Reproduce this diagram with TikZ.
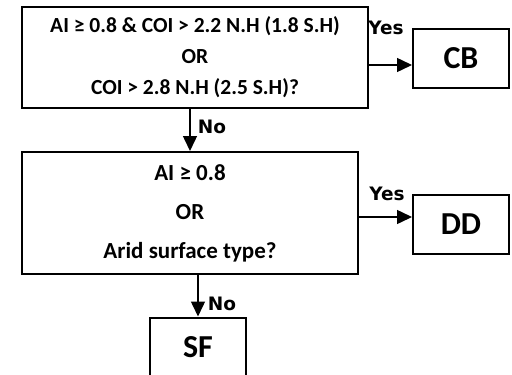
\documentclass[tikz,border=0pt]{standalone}
\usepackage{fontspec}
\setmainfont{Carlito}
\newfontfamily\lblfont{DejaVu Sans}
\usetikzlibrary{arrows.meta,positioning,calc}

\begin{document}
\begin{tikzpicture}[
    x=1pt, y=-1pt,
    % --- STYLES ---
    test/.style={
        rectangle, draw=black, line width=2pt,
        align=center, inner sep=0pt
    },
    result/.style={
        rectangle, draw=black, line width=2pt,
        minimum width=96pt, minimum height=59pt,
        font=\fontsize{32}{32}\selectfont\bfseries
    },
    answer/.style={font=\lblfont\fontsize{18.5}{18.5}\selectfont\bfseries, inner sep=0pt},
    control/.style={-{Triangle[length=15pt,width=14pt]}, line width=1.5pt}
]
\useasboundingbox (0,0) rectangle (512,375);

% ===== 1. TESTS =====
\node[test, minimum width=346pt, minimum height=101pt,
      font=\fontsize{21.5}{31}\selectfont\bfseries] (q1) at (195,57.5)
    {AI ≥ 0.8 \& COI > 2.2 N.H (1.8 S.H)\\ OR\\ COI > 2.8 N.H (2.5 S.H)?};

\node[test, minimum width=336pt, minimum height=122pt,
      font=\fontsize{23}{39}\selectfont\bfseries] (q2) at (190,213)
    {AI ≥ 0.8\\ OR\\ Arid surface type?};

% ===== 2. RESULTS =====
\node[result] (cb) at (461,58.5) {CB};
\node[result] (dd) at (461,224) {DD};
\node[result] (sf) at (198,347) {SF};

% ===== 3. CONNECTIONS =====
\draw[control] ([yshift=-7.5pt]q1.east) -- ([yshift=-7.5pt]q1.east -| cb.west);
\draw[control] (q1.south -| q2.north) -- (q2.north);
\draw[control] ([yshift=-4pt]q2.east) -- ([yshift=-4pt]q2.east -| dd.west);
\draw[control] (q2.south -| sf.north) -- (sf.north);

% Labels
\node[answer] (yes1) at (386,28) {Yes};
\node[answer] (no1) at (212,127) {No};
\node[answer] (yes2) at (387,194) {Yes};
\node[answer] (no2) at (222,304) {No};

\end{tikzpicture}
\end{document}
